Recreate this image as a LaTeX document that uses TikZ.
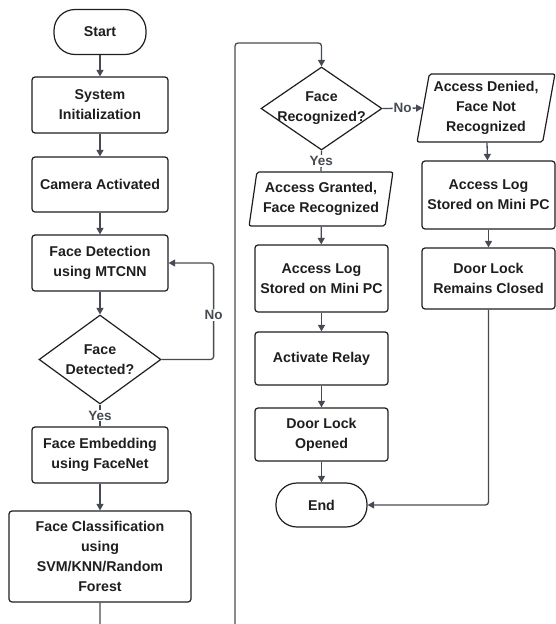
\documentclass[tikz,border=0pt]{standalone}
\usepackage{fontspec}
\setmainfont{Liberation Sans}
\usetikzlibrary{positioning,arrows.meta,shapes.geometric}
\definecolor{linegray}{RGB}{70,75,83}
\definecolor{inkblack}{RGB}{30,30,30}
\tikzset{
  process-node/.style={draw=inkblack, line width=1.2pt, rounded corners=3pt,
    minimum width=136pt, minimum height=56pt, inner sep=0pt, align=center,
    font=\fontsize{14.2}{20}\selectfont\bfseries, text=inkblack},
  terminal-node/.style={process-node, rounded corners=21pt,
    minimum width=92pt, minimum height=45pt},
  io-node/.style={process-node, trapezium, trapezium stretches=true,
    trapezium left angle=78, trapezium right angle=102, rounded corners=2pt},
  decision-node/.style={diamond, draw=inkblack, line width=1.2pt, inner sep=0pt},
  dtext/.style={align=center, font=\fontsize{14.2}{20}\selectfont\bfseries,
    text=inkblack},
  flow-arrow/.style={-{Triangle[length=6.5pt,width=7pt]}, line width=1.3pt,
    draw=linegray, rounded corners=3pt},
  flow-line/.style={line width=1.3pt, draw=linegray},
  branch-label/.style={fill=white, inner sep=1pt, text=linegray,
    font=\fontsize{13.5}{15}\selectfont\bfseries}
}
\begin{document}
\begin{tikzpicture}[x=1pt, y=-1pt]
\useasboundingbox (0,0) rectangle (556,624);
% left column
\node[terminal-node] (start) at (100,32) {Start};
\node[process-node] (init) at (100,105) {System\\Initialization};
\node[process-node, minimum height=55pt] (cam) at (100,184.5) {Camera Activated};
\node[process-node] (detect) at (100,263) {Face Detection\\using MTCNN};
\node[decision-node, minimum width=122pt, minimum height=89pt,
  label={[dtext]center:Face\\Detected?}] (facedet) at (100,359.5) {};
\node[process-node] (embed) at (100,455) {Face Embedding\\using FaceNet};
\node[process-node, minimum width=182pt, minimum height=91pt]
  (classify) at (100,556.5) {Face Classification\\using\\SVM/KNN/Random\\Forest};
% middle column
\node[decision-node, minimum width=121pt, minimum height=83pt,
  label={[dtext]center:Face\\Recognized?}] (recog) at (321.5,108.5) {};
\node[io-node, minimum width=144pt, minimum height=54pt]
  (granted) at (321,199) {Access Granted,\\Face Recognized};
\node[process-node, minimum width=133pt, minimum height=67pt]
  (logok) at (321.5,278.5) {Access Log\\Stored on Mini PC};
\node[process-node, minimum width=133pt, minimum height=53pt]
  (relay) at (321.5,358.5) {Activate Relay};
\node[process-node, minimum width=133pt, minimum height=53pt]
  (opened) at (321.5,434.5) {Door Lock\\Opened};
\node[terminal-node, minimum width=91pt, minimum height=44pt] (finish) at (321.5,505) {End};
% right column
\node[io-node, minimum width=138pt, minimum height=68pt]
  (denied) at (486,108) {Access Denied,\\Face Not\\Recognized};
\node[process-node, minimum width=133pt, minimum height=68pt]
  (logno) at (488.5,195) {Access Log\\Stored on Mini PC};
\node[process-node, minimum width=133pt, minimum height=61pt]
  (closed) at (488.5,278.5) {Door Lock\\Remains Closed};
\coordinate (busb) at (235,660);
\coordinate (bust) at (235,43);
% connectors
\draw[flow-arrow] (start) -- (init);
\draw[flow-arrow] (init) -- (cam);
\draw[flow-arrow] (cam) -- (detect);
\draw[flow-arrow] (detect) -- (facedet);
\draw[flow-arrow] (facedet.east) -- ++(52,0) |- node[pos=0.23, branch-label] {No} (detect.east);
\draw[flow-line] (facedet.south) -- node[branch-label] {Yes} (embed.north);
\draw[flow-arrow] (embed) -- (classify);
\draw[flow-arrow] (classify.south) |- (busb) -- (bust) -| (recog.north);
\draw[flow-arrow] (recog.east) -- node[branch-label] {No} (denied.west);
\draw[flow-line] (recog.south) -- node[branch-label] {Yes} (granted.north);
\draw[flow-arrow] (granted) -- (logok);
\draw[flow-arrow] (logok) -- (relay);
\draw[flow-arrow] (relay) -- (opened);
\draw[flow-arrow] (opened) -- (finish);
\draw[flow-arrow] (denied) -- (logno);
\draw[flow-arrow] (logno) -- (closed);
\draw[flow-arrow] (closed.south) |- (finish.east);
\end{tikzpicture}
\end{document}
